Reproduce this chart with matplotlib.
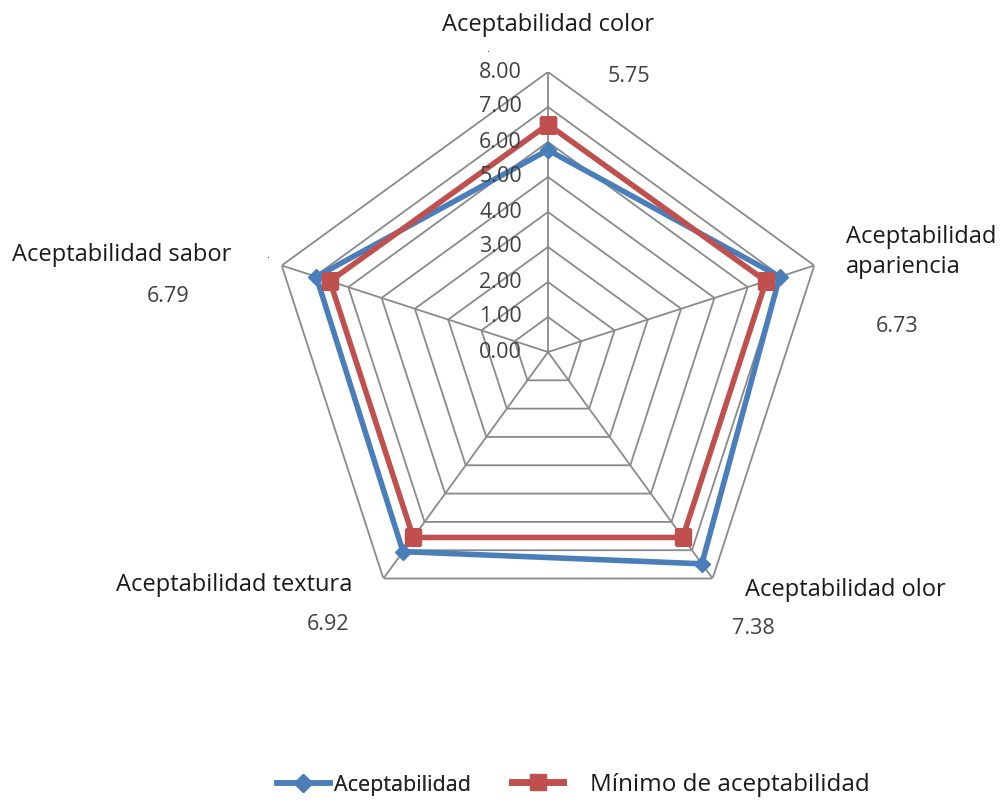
import numpy as np
import matplotlib
matplotlib.use("Agg")
import matplotlib.pyplot as plt

plt.rcParams['font.family'] = ['Open Sans', 'DejaVu Sans']

categories = ["Aceptabilidad color", "Aceptabilidad\napariencia", "Aceptabilidad olor",
              "Aceptabilidad textura", "Aceptabilidad sabor"]
aceptabilidad = [5.77, 6.96, 7.48, 7.05, 6.96]
minimo = [6.5, 6.55, 6.55, 6.55, 6.55]
value_labels = ["5.75", "6.73", "7.38", "6.92", "6.79"]
ticks = [0, 1, 2, 3, 4, 5, 6, 7, 8]
tick_labels = ["0.00", "1.00", "2.00", "3.00", "4.00", "5.00", "6.00", "7.00", "8.00"]

W, H = 1003, 801
fig = plt.figure(figsize=(W / 100, H / 100), dpi=100)

cx, cy, R = 548, 352, 280
ax = fig.add_axes([(cx - R) / W, (H - cy - R) / H, 2 * R / W, 2 * R / H], projection='polar')
ax.set_theta_zero_location('N')
ax.set_theta_direction(-1)
ax.set_ylim(0, 8)
ax.grid(False)
ax.spines['polar'].set_visible(False)
ax.set_xticks([])
ax.set_yticks([])
ax.patch.set_alpha(0)

n = len(categories)
theta = np.linspace(0, 2 * np.pi, n, endpoint=False)
theta_c = np.append(theta, theta[0])

grid_color = '#8a8a8a'
for t in ticks[1:]:
    ax.plot(theta_c, [t] * (n + 1), color=grid_color, lw=1.3, zorder=1)
for th in theta:
    ax.plot([th, th], [0, ticks[-1]], color=grid_color, lw=1.3, zorder=1)

blue = '#4a7ebb'
red = '#c0504d'
l_min, = ax.plot(theta_c, minimo + minimo[:1], color=red, lw=4, marker='s', markersize=12,
                 zorder=3, label='Mínimo de aceptabilidad')
l_ac, = ax.plot(theta_c, aceptabilidad + aceptabilidad[:1], color=blue, lw=4, marker='D',
                markersize=8, zorder=2, label='Aceptabilidad')

for t, lab in zip(ticks, tick_labels):
    ax.annotate(lab, (0, t), xytext=(-26, 0), textcoords='offset pixels',
                ha='right', va='center', fontsize=15.5, color='#404040', zorder=4)

def ftext(x, y, s, **kw):
    fig.text(x / W, 1 - y / H, s, **kw)

lab_kw = dict(fontsize=17, color='#1a1a1a', va='center')
val_kw = dict(fontsize=15.5, color='#404040', va='center')
ftext(548, 25, categories[0], ha='center', **lab_kw)
ftext(846, 252, categories[1], ha='left', linespacing=1.3, **lab_kw)
ftext(745, 590, categories[2], ha='left', **lab_kw)
ftext(352, 585, categories[3], ha='right', **lab_kw)
ftext(12, 255, categories[4], ha='left', **lab_kw)

ftext(629, 76, value_labels[0], ha='center', **val_kw)
ftext(897, 326, value_labels[1], ha='center', **val_kw)
ftext(753, 628, value_labels[2], ha='center', **val_kw)
ftext(328, 624, value_labels[3], ha='center', **val_kw)
ftext(168, 297, value_labels[4], ha='center', **val_kw)
ftext(488, 50, ".", ha='center', fontsize=8, color='#404040', va='center')
ftext(268, 256, ".", ha='center', fontsize=8, color='#404040', va='center')

from matplotlib.lines import Line2D
h_ac = Line2D([], [], color=blue, lw=4, marker='D', markersize=9)
h_min = Line2D([], [], color=red, lw=5, marker='s', markersize=11)

leg1 = fig.legend([h_ac], [l_ac.get_label()], loc='center left',
                  bbox_to_anchor=(277 / W, 1 - 785 / H), frameon=False, borderpad=0,
                  borderaxespad=0, handlelength=2.45, handletextpad=0.22, fontsize=15.5)
leg1.get_texts()[0].set_color('#262626')
leg2 = fig.legend([h_min], [l_min.get_label()], loc='center left',
                  bbox_to_anchor=(512 / W, 1 - 785 / H), frameon=False, borderpad=0,
                  borderaxespad=0, handlelength=2.1, handletextpad=1.1, fontsize=17.5)
leg2.get_texts()[0].set_color('#1a1a1a')
fig.add_artist(leg1)

fig.savefig('out.png', dpi=100)
